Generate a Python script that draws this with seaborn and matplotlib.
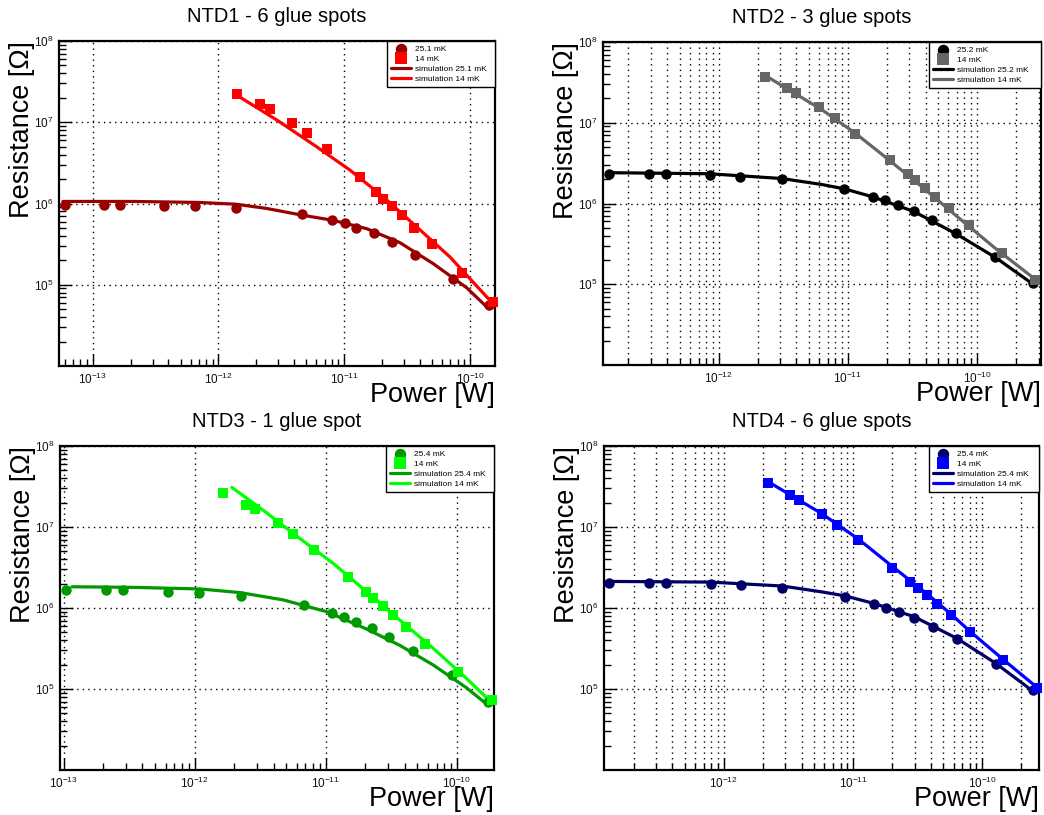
import matplotlib
matplotlib.use("Agg")
import matplotlib.pyplot as plt
import seaborn as sns
from matplotlib.ticker import LogLocator, NullFormatter

sns.set_theme(style="white")
plt.rcParams["font.family"] = ["Liberation Sans", "DejaVu Sans"]
plt.rcParams["mathtext.default"] = "regular"
plt.rcParams["text.color"] = "black"
plt.rcParams["axes.labelcolor"] = "black"

# ── DATA (power in W, resistance in Ohm) ─────────────────────────────────────

# NTD1 - 6 glue spots
ntd1_warm_p = [6.06e-14, 1.22e-13, 1.66e-13, 3.67e-13, 6.5e-13, 1.38e-12, 4.6e-12, 8.0e-12,
               1.01e-11, 1.25e-11, 1.71e-11, 2.39e-11, 3.67e-11, 7.37e-11, 1.41e-10]
ntd1_warm_r = [9.6e5, 9.6e5, 9.6e5, 9.4e5, 9.2e5, 8.9e5, 7.45e5, 6.3e5,
               5.7e5, 5.0e5, 4.3e5, 3.4e5, 2.35e5, 1.17e5, 5.6e4]
ntd1_cold_p = [1.40e-12, 2.16e-12, 2.56e-12, 3.85e-12, 5.04e-12, 7.36e-12, 1.33e-11, 1.79e-11,
               2.04e-11, 2.39e-11, 2.86e-11, 3.58e-11, 4.95e-11, 8.69e-11, 1.53e-10]
ntd1_cold_r = [2.22e7, 1.68e7, 1.47e7, 9.9e6, 7.3e6, 4.69e6, 2.13e6, 1.39e6,
               1.15e6, 9.4e5, 7.2e5, 5.06e5, 3.15e5, 1.39e5, 6.1e4]
ntd1_sim_warm_p = [5.81e-14, 2.09e-13, 7.1e-13, 1.38e-12, 2.41e-12, 4.6e-12, 8.2e-12,
                   1.51e-11, 2.77e-11, 5.1e-11, 9.4e-11, 1.41e-10]
ntd1_sim_warm_r = [1.06e6, 1.06e6, 1.03e6, 9.8e5, 8.7e5, 7.2e5, 6.2e5,
                   4.9e5, 3.3e5, 1.82e5, 9.2e4, 5.06e4]
ntd1_sim_cold_p = [1.40e-12, 2.90e-12, 6.03e-12, 1.11e-11, 2.04e-11, 3.77e-11, 6.93e-11, 1.53e-10]
ntd1_sim_cold_r = [2.15e7, 1.07e7, 5.0e6, 2.58e6, 1.21e6, 5.15e5, 2.2e5, 5.8e4]

# NTD2 - 3 glue spots
ntd2_warm_p = [1.41e-13, 2.87e-13, 3.91e-13, 8.6e-13, 1.47e-12, 3.09e-12, 9.4e-12, 1.56e-11,
               1.95e-11, 2.44e-11, 3.23e-11, 4.49e-11, 6.88e-11, 1.39e-10, 2.7e-10]
ntd2_warm_r = [2.34e6, 2.34e6, 2.34e6, 2.26e6, 2.12e6, 2.0e6, 1.52e6, 1.21e6,
               1.10e6, 9.7e5, 8.0e5, 6.3e5, 4.3e5, 2.2e5, 1.05e5]
ntd2_cold_p = [2.30e-12, 3.38e-12, 3.99e-12, 5.94e-12, 7.9e-12, 1.14e-11, 2.13e-11, 2.92e-11,
               3.33e-11, 3.94e-11, 4.76e-11, 6.1e-11, 8.6e-11, 1.56e-10, 2.83e-10]
ntd2_cold_r = [3.73e7, 2.70e7, 2.32e7, 1.56e7, 1.15e7, 7.3e6, 3.43e6, 2.30e6,
               1.94e6, 1.56e6, 1.21e6, 8.7e5, 5.4e5, 2.46e5, 1.13e5]
ntd2_sim_warm_p = [1.41e-13, 8.4e-13, 3.09e-12, 6.3e-12, 9.4e-12, 1.56e-11, 3.23e-11,
                   6.8e-11, 1.39e-10, 2.70e-10]
ntd2_sim_warm_r = [2.41e6, 2.34e6, 2.04e6, 1.72e6, 1.52e6, 1.21e6, 8.0e5,
                   4.27e5, 2.15e5, 1.01e5]
ntd2_sim_cold_p = [2.30e-12, 6.3e-12, 1.14e-11, 2.07e-11, 3.75e-11, 6.8e-11, 1.39e-10, 2.83e-10]
ntd2_sim_cold_r = [3.84e7, 1.45e7, 7.45e6, 3.49e6, 1.61e6, 7.2e5, 2.78e5, 1.15e5]

# NTD3 - 1 glue spot
ntd3_warm_p = [1.04e-13, 2.11e-13, 2.86e-13, 6.3e-13, 1.08e-12, 2.25e-12, 6.8e-12, 1.12e-11,
               1.38e-11, 1.70e-11, 2.24e-11, 3.05e-11, 4.65e-11, 9.1e-11, 1.73e-10]
ntd3_warm_r = [1.65e6, 1.65e6, 1.65e6, 1.59e6, 1.55e6, 1.42e6, 1.08e6, 8.8e5,
               7.8e5, 6.7e5, 5.6e5, 4.35e5, 2.95e5, 1.48e5, 6.9e4]
ntd3_cold_p = [1.64e-12, 2.47e-12, 2.87e-12, 4.30e-12, 5.66e-12, 8.2e-12, 1.49e-11, 2.02e-11,
               2.30e-11, 2.71e-11, 3.23e-11, 4.09e-11, 5.70e-11, 1.02e-10, 1.84e-10]
ntd3_cold_r = [2.61e7, 1.89e7, 1.67e7, 1.11e7, 8.2e6, 5.2e6, 2.41e6, 1.58e6,
               1.32e6, 1.06e6, 8.2e5, 5.9e5, 3.6e5, 1.62e5, 7.4e4]
ntd3_sim_warm_p = [1.16e-13, 3.41e-13, 1.10e-12, 2.22e-12, 4.74e-12, 1.02e-11, 2.05e-11,
                   3.67e-11, 6.6e-11, 1.18e-10, 1.73e-10]
ntd3_sim_warm_r = [1.83e6, 1.80e6, 1.72e6, 1.55e6, 1.26e6, 9.0e5, 5.5e5,
                   3.46e5, 1.98e5, 1.04e5, 6.3e4]
ntd3_sim_cold_p = [1.92e-12, 3.54e-12, 6.36e-12, 1.14e-11, 2.05e-11, 3.67e-11, 6.6e-11, 1.18e-10, 1.84e-10]
ntd3_sim_cold_r = [3.09e7, 1.50e7, 7.2e6, 3.56e6, 1.59e6, 7.1e5, 3.18e5, 1.36e5, 6.8e4]

# NTD4 - 6 glue spots
ntd4_warm_p = [1.30e-13, 2.62e-13, 3.58e-13, 7.9e-13, 1.35e-12, 2.83e-12, 8.7e-12, 1.45e-11,
               1.79e-11, 2.26e-11, 2.98e-11, 4.15e-11, 6.4e-11, 1.27e-10, 2.47e-10]
ntd4_warm_r = [2.02e6, 2.02e6, 2.02e6, 1.96e6, 1.90e6, 1.78e6, 1.38e6, 1.12e6,
               1.01e6, 8.9e5, 7.6e5, 5.9e5, 4.1e5, 2.04e5, 9.7e4]
ntd4_cold_p = [2.20e-12, 3.24e-12, 3.81e-12, 5.70e-12, 7.5e-12, 1.10e-11, 2.01e-11, 2.74e-11,
               3.19e-11, 3.75e-11, 4.49e-11, 5.69e-11, 8.1e-11, 1.45e-10, 2.67e-10]
ntd4_cold_r = [3.46e7, 2.48e7, 2.15e7, 1.45e7, 1.06e7, 6.9e6, 3.15e6, 2.11e6,
               1.78e6, 1.43e6, 1.12e6, 8.1e5, 5.06e5, 2.28e5, 1.04e5]
ntd4_sim_warm_p = [1.30e-13, 7.9e-13, 2.83e-12, 5.77e-12, 8.7e-12, 1.45e-11, 2.98e-11,
                   6.4e-11, 1.27e-10, 2.47e-10]
ntd4_sim_warm_r = [2.13e6, 2.09e6, 1.87e6, 1.58e6, 1.41e6, 1.14e6, 7.8e5,
                   4.2e5, 2.08e5, 9.4e4]
ntd4_sim_cold_p = [2.20e-12, 5.70e-12, 1.10e-11, 2.01e-11, 3.75e-11, 5.69e-11, 8.1e-11, 1.45e-10, 2.67e-10]
ntd4_sim_cold_r = [3.63e7, 1.47e7, 7.1e6, 3.27e6, 1.49e6, 8.5e5, 5.1e5, 2.32e5, 1.04e5]

titles = ["NTD1 - 6 glue spots", "NTD2 - 3 glue spots", "NTD3 - 1 glue spot", "NTD4 - 6 glue spots"]
warm_temps = ["25.1 mK", "25.2 mK", "25.4 mK", "25.4 mK"]
cold_temp = "14 mK"

# ── STYLE / LAYOUT ───────────────────────────────────────────────────────────

panels = [
    dict(data=(ntd1_warm_p, ntd1_warm_r, ntd1_cold_p, ntd1_cold_r,
               ntd1_sim_warm_p, ntd1_sim_warm_r, ntd1_sim_cold_p, ntd1_sim_cold_r),
         colors=("#990000", "#ff0000"), xlim=(5.4e-14, 1.58e-10), minor_grid=False,
         rect=[0.0565, 0.5509, 0.4176, 0.3988], leg_w=0.248),
    dict(data=(ntd2_warm_p, ntd2_warm_r, ntd2_cold_p, ntd2_cold_r,
               ntd2_sim_warm_p, ntd2_sim_warm_r, ntd2_sim_cold_p, ntd2_sim_cold_r),
         colors=("#000000", "#666666"), xlim=(1.27e-13, 3.13e-10), minor_grid=True,
         rect=[0.5776, 0.5521, 0.4195, 0.3963], leg_w=0.256),
    dict(data=(ntd3_warm_p, ntd3_warm_r, ntd3_cold_p, ntd3_cold_r,
               ntd3_sim_warm_p, ntd3_sim_warm_r, ntd3_sim_cold_p, ntd3_sim_cold_r),
         colors=("#009900", "#00ff00"), xlim=(9.4e-14, 1.92e-10), minor_grid=False,
         rect=[0.0575, 0.0552, 0.4157, 0.3975], leg_w=0.249),
    dict(data=(ntd4_warm_p, ntd4_warm_r, ntd4_cold_p, ntd4_cold_r,
               ntd4_sim_warm_p, ntd4_sim_warm_r, ntd4_sim_cold_p, ntd4_sim_cold_r),
         colors=("#000066", "#0000ff"), xlim=(1.18e-13, 2.75e-10), minor_grid=True,
         rect=[0.5785, 0.0552, 0.4167, 0.3975], leg_w=0.253),
]

GRID = dict(color="black", linestyle=(0, (1, 3)), linewidth=1.0)
MS = 7.5

fig = plt.figure(figsize=(10.44, 8.15), dpi=100)

for i, pan in enumerate(panels):
    wp, wr, cp, cr, swp, swr, scp, scr = pan["data"]
    c_warm, c_cold = pan["colors"]
    ax = fig.add_axes(pan["rect"])
    ax.set_xscale("log")
    ax.set_yscale("log")

    sns.scatterplot(x=wp, y=wr, ax=ax, marker="o", s=MS ** 2, color=c_warm,
                    linewidth=0, clip_on=False, zorder=3, label=warm_temps[i])
    sns.scatterplot(x=cp, y=cr, ax=ax, marker="s", s=MS ** 2, color=c_cold,
                    linewidth=0, clip_on=False, zorder=3, label=cold_temp)
    sns.lineplot(x=swp, y=swr, ax=ax, sort=False, estimator=None, color=c_warm,
                 linewidth=2.3, zorder=2, label="simulation " + warm_temps[i])
    sns.lineplot(x=scp, y=scr, ax=ax, sort=False, estimator=None, color=c_cold,
                 linewidth=2.3, zorder=2, label="simulation " + cold_temp)

    ax.set_xlim(*pan["xlim"])
    ax.set_ylim(1e4, 1e8)
    ax.set_yticks([1e5, 1e6, 1e7, 1e8])
    ax.xaxis.set_major_locator(LogLocator(base=10, numticks=15))
    ax.xaxis.set_minor_locator(LogLocator(base=10, subs=range(2, 10), numticks=40))
    ax.yaxis.set_minor_locator(LogLocator(base=10, subs=range(2, 10), numticks=40))
    ax.xaxis.set_minor_formatter(NullFormatter())
    ax.yaxis.set_minor_formatter(NullFormatter())

    ax.grid(True, which="major", axis="both", **GRID)
    if pan["minor_grid"]:
        ax.grid(True, which="minor", axis="x", **GRID)

    for sp in ax.spines.values():
        sp.set_color("black")
        sp.set_linewidth(1.6)
    ax.tick_params(which="both", direction="in", left=True, bottom=True,
                   top=False, right=False, color="black", width=1.0,
                   labelsize=8.5, labelcolor="#111111")
    ax.tick_params(which="major", length=9, pad=4)
    ax.tick_params(which="minor", length=5)

    ax.set_title(titles[i], fontsize=14.5, pad=14)
    ax.set_xlabel("Power [W]", fontsize=19.5, loc="right")
    ax.xaxis.set_label_coords(1.0, -0.05)
    ax.set_ylabel("Resistance [Ω]", fontsize=19.5, loc="top")
    ax.yaxis.set_label_coords(-0.055, 1.0)

    w = pan["leg_w"]
    leg = ax.legend(loc="upper right", bbox_to_anchor=(1 - w, 0, w, 1.0), mode="expand",
                    borderaxespad=0, fontsize=6, frameon=True, fancybox=False,
                    framealpha=1, edgecolor="black", borderpad=0.45, labelspacing=0.15,
                    handlelength=2.4, handleheight=1.0, handletextpad=0.5,
                    markerscale=1.1)
    leg.get_frame().set_linewidth(1.0)

plt.savefig("out.png", dpi=100)
plt.close()
